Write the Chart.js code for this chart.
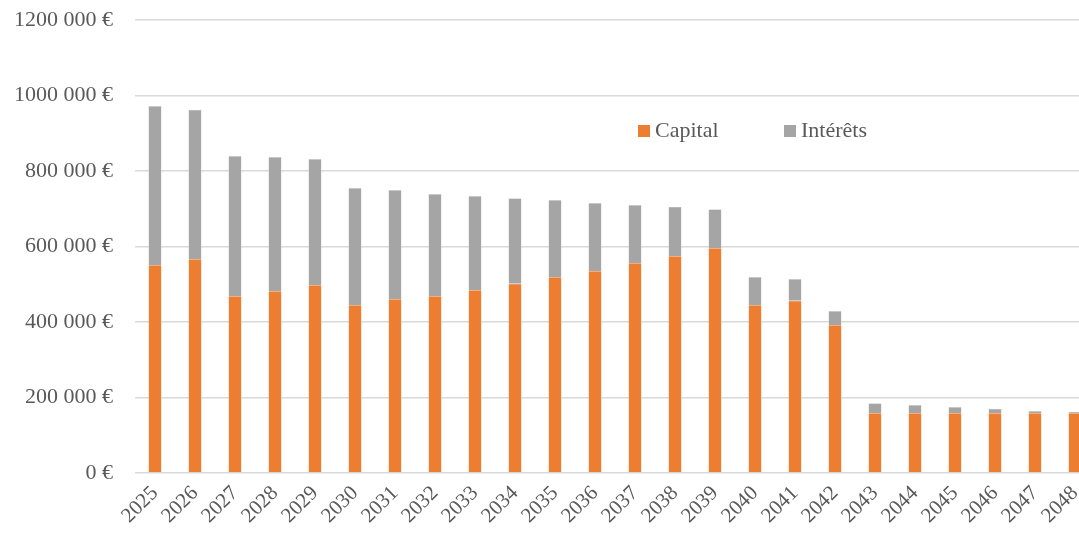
<!DOCTYPE html>
<html>
<head>
<meta charset="utf-8">
<script src="https://cdn.jsdelivr.net/npm/chart.js@4"></script>
<style>
  html, body { margin: 0; padding: 0; background: #fff; overflow: hidden; }
  #wrap { position: relative; width: 1095px; height: 538px; }
</style>
</head>
<body>
<div id="wrap"><canvas id="loanChart"></canvas></div>
<script>
// Data
const years = ['2025', '2026', '2027', '2028', '2029', '2030', '2031', '2032', '2033', '2034', '2035', '2036',
  '2037', '2038', '2039', '2040', '2041', '2042', '2043', '2044', '2045', '2046', '2047', '2048'];
const capital = [551000, 567000, 469000, 482000, 498000, 445000, 461000, 469000, 485000, 501000, 519000, 535000,
  556000, 575000, 596000, 445000, 456000, 392000, 159000, 159000, 159000, 159000, 159000, 159000];
const interets = [421000, 395000, 371000, 355000, 334000, 310000, 289000, 270000, 249000, 227000, 204000, 180000,
  154000, 130000, 103000, 74000, 58000, 37000, 26000, 21000, 16000, 11000, 5000, 3000];
const yTicks = [0, 200000, 400000, 600000, 800000, 1000000, 1200000];

const TEXT = '#595959';
const FONT = "'Liberation Serif', 'Times New Roman', serif";

// Format euros like "1000 000 €" (space only before the last 3 digits group)
const formatEuro = (v) => {
  if (v === 0) return '0 €';
  const s = String(v);
  return s.slice(0, s.length - 3) + ' ' + s.slice(-3) + ' €';
};

// Legend drawn inside the plot, as in the original
const innerLegend = {
  id: 'innerLegend',
  afterDraw(chart) {
    const ctx = chart.ctx;
    const items = [{ x: 638, label: 'Capital' }, { x: 784, label: 'Intérêts' }];
    ctx.save();
    ctx.font = '22px ' + FONT;
    ctx.textBaseline = 'middle';
    items.forEach((it, i) => {
      ctx.fillStyle = chart.data.datasets[i].backgroundColor;
      ctx.fillRect(it.x, 125, 12, 12);
      ctx.fillStyle = TEXT;
      ctx.fillText(it.label, it.x + 17, 131);
    });
    ctx.restore();
  }
};

new Chart(document.getElementById('loanChart'), {
  type: 'bar',
  data: {
    labels: years,
    datasets: [
      { label: 'Capital', data: capital, backgroundColor: '#ED7D31', borderColor: '#F7C9A9', borderWidth: 0.5 },
      { label: 'Intérêts', data: interets, backgroundColor: '#A5A5A5', borderColor: '#DADADA', borderWidth: 0.5 }
    ]
  },
  options: {
    responsive: true,
    maintainAspectRatio: false,
    animation: false,
    layout: { padding: { top: 20, left: 0, right: 0, bottom: 0 } },
    datasets: { bar: { categoryPercentage: 1, barPercentage: 0.33 } },
    plugins: { legend: { display: false }, tooltip: { enabled: false } },
    scales: {
      x: {
        stacked: true,
        grid: { display: false },
        border: { display: false },
        ticks: {
          color: TEXT,
          font: { family: FONT, size: 21 },
          maxRotation: 45,
          minRotation: 45,
          padding: 0,
          autoSkip: false
        },
        afterFit: (scale) => { scale.height = 65; }
      },
      y: {
        stacked: true,
        min: 0,
        max: 1200000,
        afterBuildTicks: (scale) => { scale.ticks = yTicks.map(v => ({ value: v })); },
        grid: { color: '#D9D9D9', lineWidth: 1.5, drawTicks: false },
        border: { display: false },
        ticks: {
          color: TEXT,
          font: { family: FONT, size: 22 },
          padding: 22,
          callback: (v) => formatEuro(v)
        },
        afterFit: (scale) => {
          scale.width = 135;
          scale.paddingTop = 0;
          scale.paddingBottom = 0;
        }
      }
    }
  },
  plugins: [innerLegend]
});
</script>
</body>
</html>
